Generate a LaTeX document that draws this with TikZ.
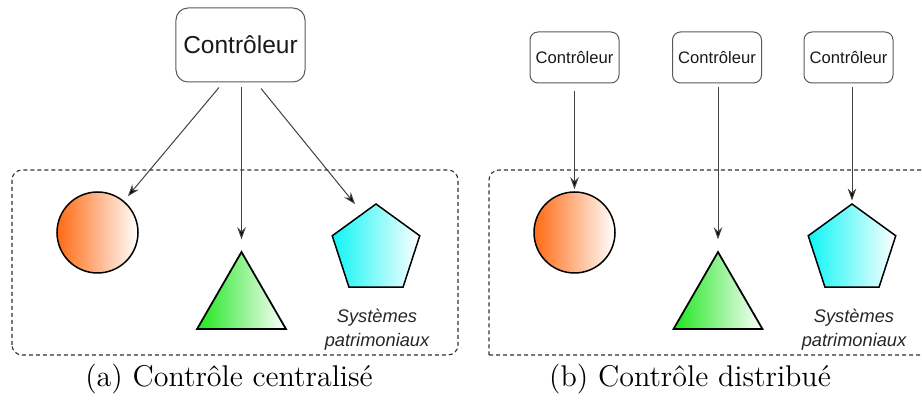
\documentclass[tikz,border=0pt]{standalone}
\usepackage{fontspec}
\setsansfont{Liberation Sans}
\usepackage{tikz}
\usetikzlibrary{arrows.meta,shapes.geometric}

\definecolor{orangeA}{HTML}{FF6A14}
\definecolor{vertA}{HTML}{1EE61E}
\definecolor{cyanA}{HTML}{0FF5F5}

\tikzset{
  ctrl/.style={draw=black!65, rounded corners=4.8pt, minimum width=51.6pt,
    minimum height=29.6pt, inner sep=0pt, text=black!90,
    font=\fontsize{9.8}{12}\selectfont\sffamily},
  ctrlsmall/.style={ctrl, rounded corners=3.2pt, minimum width=35.6pt,
    minimum height=20.4pt, font=\fontsize{6.65}{8}\selectfont\sffamily},
  arr/.style={-{Stealth[length=4.8pt,width=3.4pt,inset=1.6pt,fill=black]},
    draw=black!75, line width=0.4pt},
  disc/.style={circle, draw, line width=0.6pt, minimum size=32.4pt,
    inner sep=0pt, left color=orangeA, right color=white},
  tri/.style={regular polygon, regular polygon sides=3, draw, line width=0.7pt,
    minimum size=41.1pt, inner sep=0pt, left color=vertA, right color=white},
  pent/.style={regular polygon, regular polygon sides=5, draw, line width=0.6pt,
    minimum size=36.8pt, inner sep=0pt, left color=cyanA, right color=white},
  zone/.style={draw=black!80, line width=0.45pt, dash pattern=on 1.6pt off 1.2pt,
    rounded corners=4pt},
  syslabel/.style={align=center, text=black!85,
    font=\fontsize{7.3}{9.6}\selectfont\sffamily\itshape},
  legende/.style={font=\fontsize{12}{14}\selectfont}
}

\begin{document}
\begin{tikzpicture}[x=0.4pt, y=0.4pt]
  \useasboundingbox (0,0) rectangle (922,400);

  % (a) controle centralise
  \draw[zone] (12,45) rectangle (458,230);
  \node[ctrl] (ctrlA) at (240.5,355) {Contrôleur};
  \node[disc] (circA) at (97.5,167.5) {};
  \node[tri]  (triA)  at (241.5,96.6) {};
  \node[pent] (pentA) at (376,150) {};
  \node[syslabel] (systA) at (377,70) {Systèmes\\patrimoniaux};
  \node[legende] (capA) at (229,21) {(a) Contrôle centralisé};

  \draw[arr, shorten >=2.4pt] ([xshift=-8.6pt,yshift=-2pt]ctrlA.south) -- (circA);
  \draw[arr, shorten <=2pt, shorten >=4.4pt] (ctrlA.south -| triA.corner 1) -- (triA.corner 1);
  \draw[arr] ([xshift=8.2pt,yshift=-2.4pt]ctrlA.south) -- ([xshift=-8.4pt,yshift=-0.4pt]pentA.corner 1);

  % (b) controle distribue
  \draw[zone] (489,45) -- (935,45) (935,230) -- (489,230) [rounded corners=4pt] -- (489,45);
  \node[ctrlsmall] (ctrlB1) at (574.5,342.5) {Contrôleur};
  \node[ctrlsmall] (ctrlB2) at (717,342.5) {Contrôleur};
  \node[ctrlsmall] (ctrlB3) at (848.5,342.5) {Contrôleur};
  \node[disc] (circB) at (574.5,167.5) {};
  \node[tri]  (triB)  at (718,96.6) {};
  \node[pent] (pentB) at (852,150) {};
  \node[syslabel] (systB) at (854,70) {Systèmes\\patrimoniaux};
  \node[legende] (capB) at (690,21) {(b) Contrôle distribué};

  \draw[arr, shorten <=3.2pt, shorten >=0.8pt] (ctrlB1.south -| circB.north) -- (circB.north);
  \draw[arr, shorten <=1.6pt, shorten >=4.4pt] (ctrlB2.south -| triB.corner 1) -- (triB.corner 1);
  \draw[arr, shorten <=1.6pt, shorten >=1pt] (ctrlB3.south -| pentB.corner 1) -- (pentB.corner 1);
\end{tikzpicture}
\end{document}
